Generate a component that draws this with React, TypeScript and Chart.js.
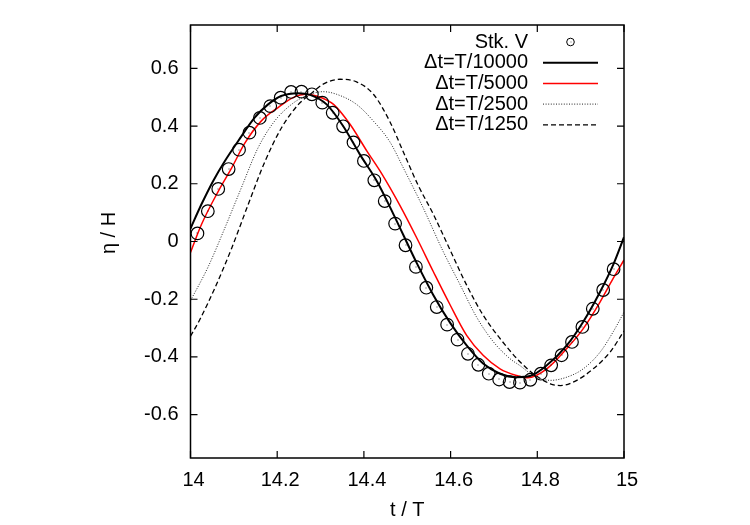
import { useEffect, useRef } from 'react';
import { Chart, registerables } from 'chart.js';

Chart.register(...registerables);

const FONT = '"Liberation Sans", Arial, Helvetica, sans-serif';

// Axis tick positions
const xTickValues = [14, 14.2, 14.4, 14.6, 14.8, 15];
const yTickValues = [-0.6, -0.4, -0.2, 0, 0.2, 0.4, 0.6];

// Stokes V reference solution (markers)
const stokesT = [
  14.016, 14.040, 14.064, 14.088, 14.112, 14.136, 14.160, 14.184, 14.208, 14.232,
  14.256, 14.280, 14.304, 14.328, 14.352, 14.376, 14.400, 14.424, 14.448, 14.472,
  14.496, 14.520, 14.544, 14.568, 14.592, 14.616, 14.640, 14.664, 14.688, 14.712,
  14.736, 14.760, 14.784, 14.808, 14.832, 14.856, 14.880, 14.904, 14.928, 14.952,
  14.976,
];
const stokesEta = [
  0.028, 0.105, 0.182, 0.251, 0.318, 0.377, 0.428, 0.469, 0.498, 0.518,
  0.519, 0.510, 0.481, 0.446, 0.399, 0.343, 0.279, 0.212, 0.140, 0.062,
  -0.013, -0.088, -0.160, -0.227, -0.288, -0.340, -0.389, -0.427, -0.458, -0.478,
  -0.487, -0.489, -0.479, -0.458, -0.429, -0.394, -0.348, -0.296, -0.233, -0.168,
  -0.096,
];

// dt = T/10000
const dt10000T = [
  14.000, 14.025, 14.052, 14.079, 14.110, 14.148, 14.179, 14.209, 14.248, 14.276,
  14.314, 14.352, 14.391, 14.430, 14.468, 14.522, 14.560, 14.599, 14.637, 14.675,
  14.714, 14.752, 14.783, 14.822, 14.868, 14.906, 14.945, 14.975, 15.000,
];
const dt10000Eta = [
  0.045, 0.128, 0.209, 0.278, 0.348, 0.429, 0.475, 0.504, 0.514, 0.508,
  0.475, 0.400, 0.301, 0.209, 0.095, -0.075, -0.185, -0.282, -0.360, -0.423,
  -0.458, -0.470, -0.466, -0.429, -0.360, -0.278, -0.174, -0.081, 0.015,
];

// dt = T/5000
const dt5000T = [
  14.000, 14.025, 14.064, 14.095, 14.125, 14.163, 14.202, 14.240, 14.265, 14.291,
  14.330, 14.368, 14.407, 14.441, 14.483, 14.522, 14.560, 14.599, 14.637, 14.675,
  14.714, 14.752, 14.778, 14.822, 14.868, 14.906, 14.945, 14.975, 15.000,
];
const dt5000Eta = [
  -0.038, 0.058, 0.174, 0.255, 0.340, 0.417, 0.464, 0.501, 0.510, 0.504,
  0.475, 0.406, 0.313, 0.235, 0.125, 0.012, -0.104, -0.220, -0.325, -0.394,
  -0.441, -0.464, -0.472, -0.441, -0.371, -0.302, -0.209, -0.128, -0.064,
];

// dt = T/2500
const dt2500T = [
  14.000, 14.040, 14.079, 14.117, 14.156, 14.194, 14.233, 14.264, 14.306, 14.337,
  14.383, 14.422, 14.460, 14.491, 14.535, 14.583, 14.622, 14.660, 14.699, 14.737,
  14.760, 14.791, 14.830, 14.868, 14.906, 14.945, 14.975, 15.000,
];
const dt2500Eta = [
  -0.205, -0.090, 0.046, 0.185, 0.325, 0.417, 0.475, 0.503, 0.519, 0.510,
  0.475, 0.417, 0.345, 0.255, 0.122, -0.035, -0.150, -0.262, -0.348, -0.406,
  -0.430, -0.464, -0.481, -0.470, -0.441, -0.383, -0.313, -0.245,
];

// dt = T/1250
const dt1250T = [
  14.000, 14.021, 14.056, 14.095, 14.133, 14.172, 14.210, 14.249, 14.276, 14.306,
  14.345, 14.383, 14.422, 14.460, 14.491, 14.525, 14.560, 14.599, 14.637, 14.675,
  14.714, 14.757, 14.791, 14.830, 14.853, 14.891, 14.929, 14.968, 15.000,
];
const dt1250Eta = [
  -0.328, -0.272, -0.162, -0.023, 0.128, 0.278, 0.394, 0.475, 0.510, 0.545,
  0.562, 0.553, 0.510, 0.415, 0.310, 0.195, 0.095, -0.030, -0.151, -0.255,
  -0.336, -0.412, -0.458, -0.493, -0.499, -0.481, -0.441, -0.383, -0.310,
];

const zip = (t: number[], e: number[]) => t.map((x, i) => ({ x, y: e[i] }));

const fmtTick = (v: number) => {
  const n = Math.round(Number(v) * 10) / 10;
  return Number.isInteger(n) ? String(n) : n.toFixed(1);
};

const TICK_LEN = 7;

// Frame, mirrored inward ticks, marker centre dots, rotated y title and the key
const framePlugin = {
  id: 'frameAndKey',
  afterDatasetsDraw(chart: any) {
    const { ctx, chartArea: a, scales } = chart;
    ctx.save();

    // small dot in the middle of each open circle
    const meta = chart.getDatasetMeta(0);
    ctx.fillStyle = 'rgba(0,0,0,0.75)';
    for (const el of meta.data) {
      ctx.fillRect(Math.round(el.x) - 0.5, Math.round(el.y) - 0.5, 1, 1);
    }

    ctx.strokeStyle = '#000';
    ctx.setLineDash([]);
    ctx.lineWidth = 1.2;
    ctx.beginPath();
    for (const v of xTickValues) {
      const px = scales.x.getPixelForValue(v);
      ctx.moveTo(px, a.bottom);
      ctx.lineTo(px, a.bottom - TICK_LEN);
      ctx.moveTo(px, a.top);
      ctx.lineTo(px, a.top + TICK_LEN);
    }
    for (const v of yTickValues) {
      const py = scales.y.getPixelForValue(v);
      ctx.moveTo(a.left, py);
      ctx.lineTo(a.left + TICK_LEN, py);
      ctx.moveTo(a.right, py);
      ctx.lineTo(a.right - TICK_LEN, py);
    }
    ctx.stroke();
    ctx.lineWidth = 1.5;
    ctx.strokeRect(a.left, a.top, a.right - a.left, a.bottom - a.top);

    // y axis title
    ctx.fillStyle = '#000';
    ctx.font = `20px ${FONT}`;
    ctx.textAlign = 'center';
    ctx.textBaseline = 'middle';
    ctx.translate(109, 233);
    ctx.rotate(-Math.PI / 2);
    ctx.fillText('η / H', 0, 0);
    ctx.restore();

    // key, top right
    ctx.save();
    ctx.font = `20px ${FONT}`;
    ctx.textAlign = 'right';
    ctx.textBaseline = 'middle';
    ctx.fillStyle = '#000';
    const textRight = 528;
    const sampleL = 543;
    const sampleR = 598;
    chart.data.datasets.forEach((ds: any, i: number) => {
      const y = 42 + i * 20.7;
      ctx.fillStyle = '#000';
      ctx.fillText(ds.label, textRight, y);
      if (ds.showLine === false) {
        const cx = (sampleL + sampleR) / 2;
        ctx.strokeStyle = '#000';
        ctx.lineWidth = 1;
        ctx.setLineDash([]);
        ctx.beginPath();
        ctx.arc(cx, y, 3.8, 0, Math.PI * 2);
        ctx.stroke();
        ctx.fillStyle = 'rgba(0,0,0,0.6)';
        ctx.fillRect(Math.round(cx) - 0.5, Math.round(y) - 0.5, 1, 1);
      } else {
        ctx.strokeStyle = ds.borderColor;
        ctx.lineWidth = ds.borderWidth;
        ctx.setLineDash(ds.borderDash || []);
        ctx.beginPath();
        ctx.moveTo(sampleL, y);
        ctx.lineTo(sampleR, y);
        ctx.stroke();
      }
    });
    ctx.restore();
  },
};

export default function App() {
  const canvasRef = useRef<HTMLCanvasElement | null>(null);

  useEffect(() => {
    if (!canvasRef.current) return;

    const lineBase = {
      showLine: true,
      pointRadius: 0,
      fill: false,
      cubicInterpolationMode: 'monotone' as const,
    };

    const chart = new Chart(canvasRef.current, {
      type: 'line',
      data: {
        datasets: [
          {
            label: 'Stk. V',
            data: zip(stokesT, stokesEta),
            showLine: false,
            pointStyle: 'circle',
            pointRadius: 6.3,
            pointBorderWidth: 1.2,
            pointBorderColor: '#000',
            pointBackgroundColor: 'rgba(0,0,0,0)',
            borderColor: '#000',
            backgroundColor: 'rgba(0,0,0,0)',
          },
          {
            ...lineBase,
            label: 'Δt=T/10000',
            data: zip(dt10000T, dt10000Eta),
            borderColor: '#000',
            borderWidth: 2,
          },
          {
            ...lineBase,
            label: 'Δt=T/5000',
            data: zip(dt5000T, dt5000Eta),
            borderColor: '#ff0000',
            borderWidth: 1.5,
          },
          {
            ...lineBase,
            label: 'Δt=T/2500',
            data: zip(dt2500T, dt2500Eta),
            borderColor: '#222',
            borderWidth: 1,
            borderDash: [1, 1.6],
          },
          {
            ...lineBase,
            label: 'Δt=T/1250',
            data: zip(dt1250T, dt1250Eta),
            borderColor: '#000',
            borderWidth: 1.3,
            borderDash: [5, 3],
          },
        ],
      },
      options: {
        responsive: false,
        animation: false,
        events: [],
        layout: { padding: { left: 0, right: 126, top: 25, bottom: 0 } },
        plugins: {
          legend: { display: false },
          tooltip: { enabled: false },
        },
        scales: {
          x: {
            type: 'linear',
            min: 14,
            max: 15,
            afterBuildTicks: (s: any) => {
              s.ticks = xTickValues.map((value) => ({ value }));
            },
            afterFit: (s: any) => {
              s.height = 67;
            },
            grid: { display: false, drawTicks: false },
            border: { display: false },
            ticks: {
              color: '#000',
              font: { family: FONT, size: 20 },
              padding: 10,
              labelOffset: 3,
              maxRotation: 0,
              autoSkip: false,
              callback: (v: any) => fmtTick(v),
            },
            title: {
              display: true,
              text: 't / T',
              color: '#000',
              font: { family: FONT, size: 20 },
              padding: { top: 0, bottom: 3 },
            },
          },
          y: {
            type: 'linear',
            min: -0.75,
            max: 0.75,
            afterBuildTicks: (s: any) => {
              s.ticks = yTickValues.map((value) => ({ value }));
            },
            afterFit: (s: any) => {
              s.width = 190.5;
            },
            grid: { display: false, drawTicks: false },
            border: { display: false },
            ticks: {
              color: '#000',
              font: { family: FONT, size: 20 },
              padding: 12,
              autoSkip: false,
              callback: (v: any) => fmtTick(v),
            },
          },
        },
      },
      plugins: [framePlugin],
    });

    return () => chart.destroy();
  }, []);

  return (
    <div style={{ position: 'fixed', left: 0, top: 0, width: 750, height: 525, background: '#fff' }}>
      <canvas ref={canvasRef} width={750} height={525} />
    </div>
  );
}
